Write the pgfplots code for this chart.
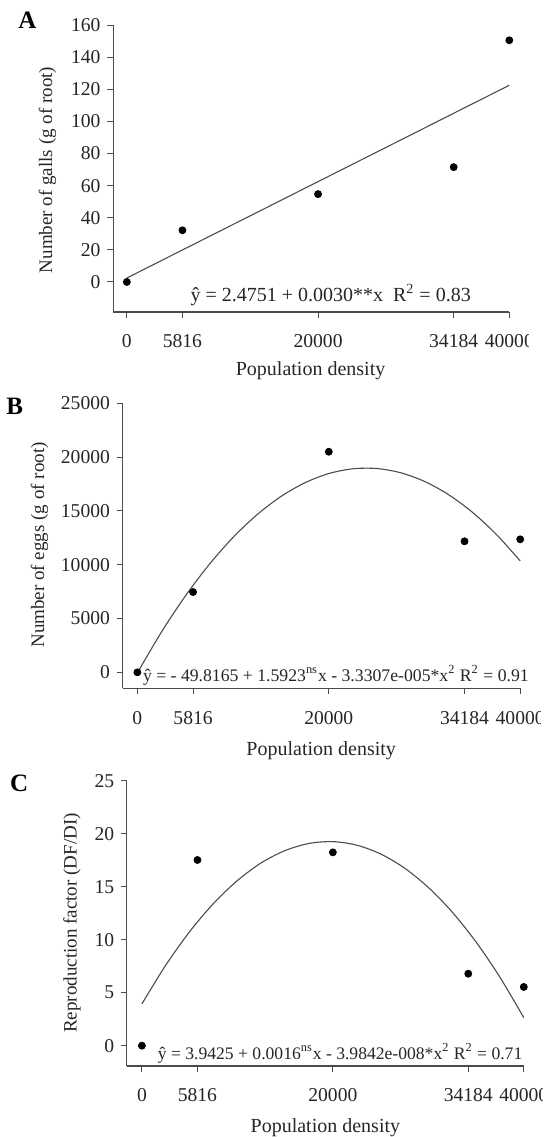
\documentclass[border=0pt]{standalone}
\usepackage{fontspec}
\setmainfont{Liberation Serif}
\usepackage{pgfplots}
\pgfplotsset{compat=1.18}

\pgfplotsset{
  panel/.style={
    scale only axis, anchor=south west, clip=false,
    axis x line*=bottom, axis y line*=left,
    xmax=40000,
    xtick={0,5816,20000,34184,40000},
    xticklabels={0,5816,20000,34184,40000},
    scaled ticks=false,
    tick align=outside, major tick length=2.8pt,
    tick style={black!70, line width=0.5pt},
    axis line style={black!70, line width=0.55pt},
    ticklabel style={font=\fontsize{9.8}{10}\selectfont, text=black!85},
    /pgf/number format/assume math mode=true,
    /pgf/number format/1000 sep={},
    xticklabel style={yshift=-5pt},
  },
  fit/.style={black!70, line width=0.55pt},
  pts/.style={only marks, mark=*, mark size=1.75pt, black},
}

\begin{document}
\begin{tikzpicture}
\useasboundingbox (0,0) rectangle (276pt,-568.5pt);

% A: galls
\begin{axis}[panel, at={(56.55pt,-156pt)}, width=198.1pt, height=143.5pt,
  xmin=-1436, ymin=-18.7, ymax=160, ytick={0,20,...,160}]
\addplot[fit] coordinates {(0,2.4751)(40000,122.48)};
\addplot[pts] coordinates {(0,0)(5816,32.2)(20000,54.7)(34184,71.5)(40000,150.5)};
\end{axis}

% B: eggs
\begin{axis}[panel, at={(61.3pt,-344.15pt)}, width=198.8pt, height=142.5pt,
  xmin=-1546, ymin=-1487, ymax=25000, ytick={0,5000,...,25000}]
\addplot[fit, smooth] coordinates {
  (0,-49.8)(2500,3722.8)(5000,7079.0)(7500,10018.9)(10000,12542.5)
  (12500,14649.7)(15000,16340.6)(17500,17615.2)(20000,18473.4)
  (22500,18915.2)(25000,18940.8)(27500,18550.0)(30000,17742.9)
  (32500,16519.5)(35000,14879.6)(37500,12823.4)(40000,10351.0)};
\addplot[pts] coordinates {(0,0)(5816,7460)(20000,20500)(34184,12175)(40000,12360)};
\end{axis}

% C: reproduction factor
\begin{axis}[panel, at={(63.4pt,-533pt)}, width=198.5pt, height=142.65pt,
  xmin=-1583, ymin=-1.92, ymax=25, ytick={0,5,...,25}]
\addplot[fit, smooth] coordinates {
  (0,3.94)(2500,7.60)(5000,10.76)(7500,13.42)(10000,15.58)(12500,17.25)
  (15000,18.41)(17500,19.08)(20000,19.25)(22500,18.92)(25000,18.09)
  (27500,16.76)(30000,14.93)(32500,12.61)(35000,9.78)(37500,6.46)(40000,2.64)};
\addplot[pts] coordinates {(0,0)(5816,17.52)(20000,18.24)(34184,6.79)(40000,5.54)};
\end{axis}

\begin{scope}[x=0.5pt, y=-0.5pt, font=\fontsize{9.5}{11}\selectfont, text=black!85]
% the source image is cropped through the last "40000" label
\fill[white] (529,320) rectangle (552,352);
\fill[white] (541,700) rectangle (552,730);
\fill[white] (543,1078) rectangle (552,1108);
% panel letters
\node[font=\fontsize{12.5}{13}\selectfont\bfseries, text=black] at (27.5,20) {A};
\node[font=\fontsize{12.5}{13}\selectfont\bfseries, text=black] at (14.7,406) {B};
\node[font=\fontsize{12.5}{13}\selectfont\bfseries, text=black] at (19.2,783) {C};
% axis titles
\node[rotate=90] at (47.5,170) {Number of galls (g of root)};
\node[rotate=90] at (39.6,545) {Number of eggs (g of root)};
\node[rotate=90] at (72,923) {Reproduction factor (DF/DI)};
\node[font=\fontsize{10}{11}\selectfont] at (310.6,371) {Population density};
\node[font=\fontsize{10}{11}\selectfont] at (321.2,751) {Population density};
\node[font=\fontsize{10}{11}\selectfont] at (325.4,1128) {Population density};
% equations
\node[anchor=west, inner sep=0pt, font=\fontsize{10}{11}\selectfont] at (190.2,295) {ŷ = 2.4751 + 0.0030**x\ \ R\textsuperscript{2} = 0.83};
\node[anchor=west, inner sep=0pt, font=\fontsize{8.85}{10}\selectfont] at (142.6,675) {ŷ = - 49.8165 + 1.5923\textsuperscript{ns}x - 3.3307e-005*x\textsuperscript{2} R\textsuperscript{2} = 0.91};
\node[anchor=west, inner sep=0pt, font=\fontsize{8.8}{10}\selectfont] at (157.4,1053) {ŷ = 3.9425 + 0.0016\textsuperscript{ns}x - 3.9842e-008*x\textsuperscript{2} R\textsuperscript{2} = 0.71};
\end{scope}
\end{tikzpicture}
\end{document}
